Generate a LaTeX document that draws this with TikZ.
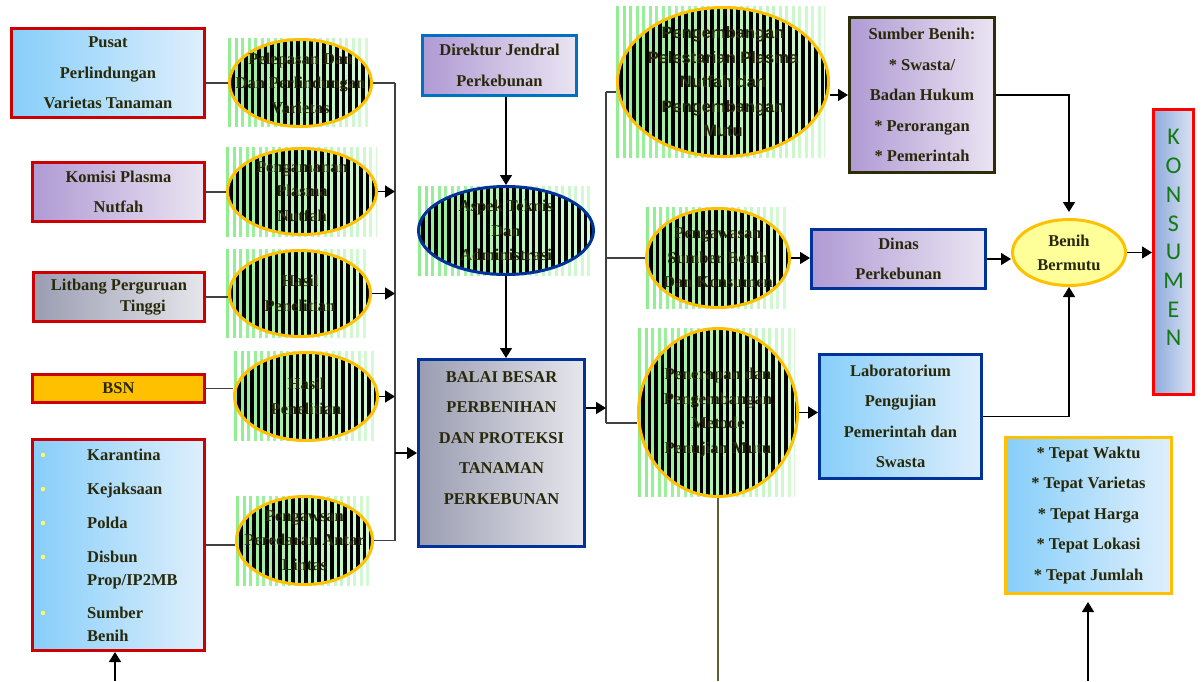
\documentclass[tikz,border=0pt]{standalone}
\usepackage{fontspec}
\setmainfont{Liberation Serif}
\newfontfamily\sansf{Liberation Sans}
\newfontfamily\carl{Carlito}
\usetikzlibrary{shapes.geometric,arrows.meta}
\definecolor{txt}{RGB}{40,40,10}
\definecolor{orng}{RGB}{255,192,0}
\definecolor{redb}{RGB}{204,0,0}
\definecolor{dblue}{RGB}{0,51,153}
\definecolor{mblue}{RGB}{0,112,192}
\definecolor{oliveb}{RGB}{45,45,10}
\definecolor{lblueA}{RGB}{135,206,250}
\definecolor{lblueB}{RGB}{222,239,252}
\definecolor{purpA}{RGB}{176,154,212}
\definecolor{purpB}{RGB}{234,228,242}
\definecolor{grayA}{RGB}{154,157,178}
\definecolor{grayB}{RGB}{230,230,236}
\definecolor{konsA}{RGB}{142,170,219}
\definecolor{konsB}{RGB}{220,228,244}
\definecolor{lgreen}{RGB}{144,238,144}
\definecolor{byellow}{RGB}{255,255,153}
\definecolor{kgreen}{RGB}{20,120,20}
\definecolor{bulletc}{RGB}{255,255,102}
\definecolor{oliveline}{RGB}{95,95,50}

\newcommand\stripefill[4]{%
  \pgfmathtruncatemacro\nstr{floor((#3-#1)/6.5)}%
  \foreach \i in {0,...,\nstr}{%
    \pgfmathsetmacro\xa{#1+\i*6.5}%
    \pgfmathsetmacro\xb{min(\xa+3.4,#3)}%
    \pgfmathtruncatemacro\mixv{100-62*\i/\nstr}%
    \fill[lgreen!\mixv!white] (\xa,#2) rectangle (\xb,#4);%
  }}
\newcommand\stripedell[9]{%
  \stripefill{#6}{#7}{#8}{#9}
  \fill[black] (#2,#3) ellipse [x radius=#4pt, y radius=#5pt];
  \begin{scope}
    \clip (#2,#3) ellipse [x radius=#4pt, y radius=#5pt];
    \stripefill{#6}{#7}{#8}{#9}
  \end{scope}
  \node[stell, minimum width=2*#4, minimum height=2*#5] (#1) at (#2,#3) {};
}

\begin{document}
\begin{tikzpicture}[x=1pt,y=-1pt,
  box/.style={rectangle, line width=3pt, align=center, text=txt, inner sep=0pt,
    font=\fontsize{16.5}{30.5}\selectfont\bfseries},
  lbl/.style={align=center, text=txt, inner sep=0pt,
    font=\fontsize{16.5}{24.5}\selectfont\bfseries},
  stell/.style={ellipse, draw=orng, line width=3pt, inner sep=0pt},
  arr/.style={line width=1.5pt, draw=black, -{Triangle[length=10pt,width=12pt]}},
  conn/.style={line width=1.4pt, draw=black!75}]
\fill[white] (0,0) rectangle (1202,681);
\useasboundingbox (0,0) rectangle (1202,681);

% ---------- left boxes
\node[box, draw=redb, left color=lblueA, right color=lblueB, minimum width=193, minimum height=89]
  (pusat) at (108,73) {Pusat\\Perlindungan\\Varietas Tanaman};
\node[box, draw=redb, left color=purpA, right color=purpB, minimum width=172, minimum height=59]
  (komisi) at (118.5,192) {Komisi Plasma\\Nutfah};
\node[box, draw=redb, left color=grayA, right color=grayB, minimum width=171, minimum height=49]
  (litbang) at (119,297) {Litbang Perguruan\\[-9.5pt]\hspace*{48pt}Tinggi};
\node[box, draw=redb, fill=orng, minimum width=172, minimum height=28]
  (bsn) at (118.5,388.5) {BSN};
\node[box, draw=redb, left color=lblueA, right color=lblueB, minimum width=172, minimum height=211]
  (kar) at (118.5,545) {};
\foreach \yy in {455,489,523,557,613} \fill[bulletc] (43,\yy) circle (2.2pt);
\node[anchor=north west, align=left, text=txt, inner sep=0pt,
  font=\fontsize{16.5}{23}\selectfont\bfseries] (kartxt) at (87,449)
  {Karantina\\[11pt]Kejaksaan\\[11pt]Polda\\[11pt]Disbun\\Prop/IP2MB\\[10pt]Sumber\\Benih};

% ---------- first column of ellipses
\stripedell{e1}{300.5}{83}{71}{43.5}{228}{38}{370}{127}
\node[lbl] (e1t) at (e1) {Pelepasan Dan\\Dan Perlindungan\\Varietas};
\stripedell{e2}{302}{191.5}{74.5}{43}{226}{147}{376}{237}
\node[lbl] (e2t) at (e2) {Pengamanan\\Plasma\\Nutfah};
\stripedell{e3}{300}{293.5}{70.5}{43}{226}{249}{368}{338}
\node[lbl] (e3t) at (e3) {Hasil\\Penelitian};
\stripedell{e4}{306}{396.5}{71.5}{44}{234}{351}{376}{441}
\node[lbl] (e4t) at (e4) {Hasil\\Penelitian};
\stripedell{e5}{304.5}{540.5}{68}{44}{236}{496}{370}{586}
\node[lbl] (e5t) at (e5) {Pengawsan\\Peredaran Antar\\Lintas};

\draw[conn] (e1.west) -- (e1.west -| pusat.east);
\draw[conn] (komisi.east) -- (komisi.east -| e2.west);
\draw[conn] (litbang.east) -- (litbang.east -| e3.west);
\draw[conn] (bsn.east) -- (bsn.east -| e4.west);
\draw[conn] (kar.east) -- (kar.east -| e5.west);

% ---------- centre column
\node[box, draw=mblue, left color=purpA, right color=purpB, minimum width=154, minimum height=60]
  (dir) at (499.5,65.5) {Direktur Jendral\\Perkebunan};
\begin{scope}[stell/.append style={draw=dblue}]
\stripedell{aspek}{506}{230.5}{87.5}{44}{418}{186}{590}{276}
\end{scope}
\node[lbl] (aspekt) at (aspek) {Aspek Teknis\\Dan\\Administrasi};
\node[box, draw=dblue, left color=grayA, right color=grayB, minimum width=166, minimum height=187]
  (balai) at (501.5,453) {BALAI BESAR\\PERBENIHAN\\DAN PROTEKSI\\TANAMAN\\PERKEBUNAN\\\mbox{}};

\coordinate (bus1) at (395,83);
\draw[conn] (e1.east) -- (e1.east -| bus1);
\draw[conn] (bus1) -- (bus1 |- e5.east);
\draw[conn] (e5.east) -- (e5.east -| bus1);
\draw[arr] (e2.east) -- (e2.east -| bus1);
\draw[arr] (e3.east) -- (e3.east -| bus1);
\draw[arr] (e4.east) -- (e4.east -| bus1);
\draw[arr] (bus1 |- balai.west) -- (balai.west);
\draw[arr] (aspek.north |- dir.south) -- (aspek.north);
\draw[arr] (aspek.south) -- (aspek.south |- balai.north);

% ---------- second column of ellipses
\stripedell{pengemb}{723}{82}{105.5}{74.5}{616}{6}{825}{158}
\node[lbl, font=\sansf\fontsize{16.5}{24.5}\selectfont\bfseries] (pengembt) at (pengemb)
  {Pengembangan\\Pelestarian Plasma\\Nutfah dan\\Pengembangan\\Mutu};
\stripedell{pengaw}{718}{258}{71.5}{49.5}{646}{207}{788}{309}
\node[lbl] (pengawt) at (pengaw) {Pengawasan\\Sumber Benih\\Dan Konsumen};
\stripedell{pen}{718}{412.5}{79.5}{84}{638}{328}{795}{497}
\node[lbl] (pent) at (pen) {Penerapan dan\\Pengembangan\\Metode\\Penujian Mutu};

\coordinate (bus2t) at (606,92);
\coordinate (bus2a) at (606,408);
\coordinate (bus2b) at (606,423);
\draw[conn] (bus2t) -- (bus2b);
\draw[conn] (bus2t) -- (bus2t -| pengemb.west);
\draw[conn] (bus2t |- pengaw.west) -- (pengaw.west);
\draw[conn] (bus2b) -- (bus2b -| pen.west);
\draw[arr] (balai.east |- bus2a) -- (bus2a);
\coordinate (bottomA) at (718,681);
\draw[line width=1.4pt, draw=oliveline] (pen.south) -- (bottomA);

% ---------- right part
\node[box, draw=oliveb, left color=purpA, right color=purpB, minimum width=145, minimum height=155]
  (sumber) at (922,95) {Sumber Benih:\\* Swasta/\\Badan Hukum\\* Perorangan\\* Pemerintah};
\node[box, draw=dblue, left color=purpA, right color=purpB, minimum width=174, minimum height=59]
  (dinas) at (898.5,259) {Dinas\\Perkebunan};
\node[box, draw=dblue, left color=lblueA, right color=lblueB, minimum width=162, minimum height=124]
  (lab) at (900.5,416.5) {Laboratorium\\Pengujian\\Pemerintah dan\\Swasta};
\node[ellipse, draw=orng, line width=3pt, fill=byellow, inner sep=0pt, minimum width=113,
  minimum height=66, align=center, text=txt, font=\fontsize{16.5}{24}\selectfont\bfseries]
  (benih) at (1069,252.5) {Benih\\Bermutu};
\node[rectangle, draw=red, line width=3pt, left color=konsA, right color=konsB, inner sep=0pt,
  minimum width=40, minimum height=285, align=center, text=kgreen,
  font=\carl\fontsize{24}{28.7}\selectfont] (kons) at (1173.5,252)
  {K\\O\\N\\S\\U\\M\\E\\N\\\mbox{}};
\node[box, draw=orng, left color=lblueA, right color=lblueB, minimum width=166, minimum height=156]
  (tepat) at (1088.5,515.5) {* Tepat Waktu\\* Tepat Varietas\\* Tepat Harga\\* Tepat Lokasi\\* Tepat Jumlah};

\draw[arr] (sumber.west -| pengemb.east) -- (sumber.west);
\draw[arr, shorten >=6pt] (sumber.east) -| (benih.north);
\draw[arr] (pengaw.east) -- (pengaw.east -| dinas.west);
\draw[arr] (dinas.east) -- (dinas.east -| benih.west);
\draw[arr] (benih.east) -- (benih.east -| kons.west);
\draw[arr] (pen.east) -- (pen.east -| lab.west);
\draw[arr] (lab.east) -| (benih.south);
\coordinate (bottomB) at (1088,681);
\draw[arr, shorten >=7pt] (bottomB) -- (bottomB |- tepat.south);
\coordinate (bottomC) at (115,681);
\draw[arr] (bottomC) -- (bottomC |- kar.south);
\end{tikzpicture}
\end{document}
